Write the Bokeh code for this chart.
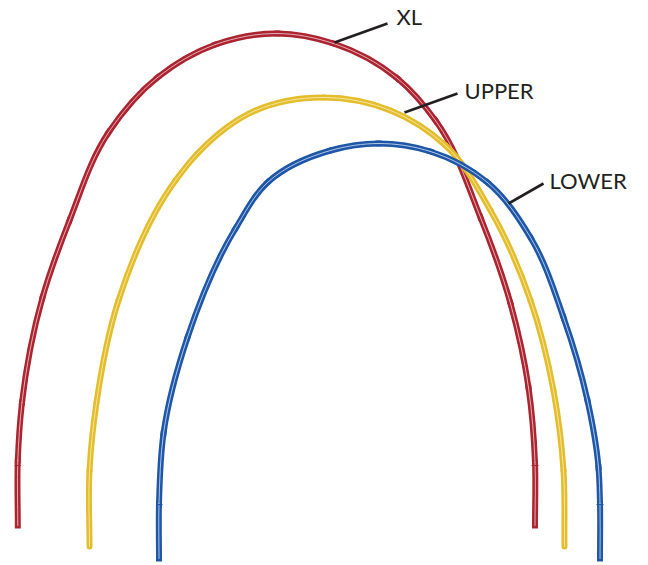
from math import hypot

from bokeh.plotting import figure
from bokeh.models import Range1d
from bokeh.core.properties import value
from bokeh.embed import file_html
from bokeh.resources import INLINE

red_x = [17.3,17.3,21.5,42,69,108,157,215,277,333,397,435,480,510,528,534.5,534.5]
red_y = [525,460,402,297,220,132,77,44,33,43,78,120,217,303,387,462,525]
yellow_x = [89,89,96,118,175,197,255,323,390,445,490,530,553,563,564]
yellow_y = [546,470,402,300,180,153,110,97,110,145,210,300,390,470,546]
blue_x = [158.5,158.5,163,187,235,267,330,378,430,487,530,563,587,598,599.5,599.5]
blue_y = [558,503,433,337,228,182,150,143,151,182,237,317,400,467,503,558]

labels = ["XL", "UPPER", "LOWER"]
label_x = [396, 464, 549]
label_y = [16, 90, 180]
lead_x0 = [334, 404, 508]
lead_y0 = [42, 112, 203]
lead_x1 = [387, 457, 543]
lead_y1 = [23, 93, 183]

red_joint_x0 = [14, 531]
red_joint_x1 = [20.5, 538]
red_joint_y = [465, 465]
blue_joint_x0 = [156, 596]
blue_joint_x1 = [162, 603]
blue_joint_y = [504, 504]

RED, YELLOW, BLUE = "#ab2430", "#e4bd2b", "#1f57a8"
RED_IN, YELLOW_IN, BLUE_IN = "#e6c0c4", "#f7e8b4", "#c2d3ea"


def controls(xs, ys):
    """Bezier handles: tangent of the circle through each three read points."""
    n = len(xs)
    tx, ty = [], []
    for i in range(n):
        if i == 0 or i == n - 1:
            j, k = (0, 1) if i == 0 else (n - 2, n - 1)
            dx, dy = xs[k] - xs[j], ys[k] - ys[j]
        else:
            ax, ay = xs[i] - xs[i - 1], ys[i] - ys[i - 1]
            bx, by = xs[i + 1] - xs[i], ys[i + 1] - ys[i]
            la, lb = hypot(ax, ay), hypot(bx, by)
            dx = ax / la * lb + bx / lb * la
            dy = ay / la * lb + by / lb * la
        m = hypot(dx, dy)
        tx.append(dx / m)
        ty.append(dy / m)
    c0x, c0y, c1x, c1y = [], [], [], []
    for i in range(n - 1):
        h = hypot(xs[i + 1] - xs[i], ys[i + 1] - ys[i]) / 3
        c0x.append(xs[i] + tx[i] * h)
        c0y.append(ys[i] + ty[i] * h)
        c1x.append(xs[i + 1] - tx[i + 1] * h)
        c1y.append(ys[i + 1] - ty[i + 1] * h)
    return c0x, c0y, c1x, c1y


p = figure(width=648, height=565, output_backend="svg", toolbar_location=None,
           x_range=Range1d(0, 648), y_range=Range1d(565, 0),
           min_border=0, outline_line_color=None)
p.xaxis.visible = False
p.yaxis.visible = False
p.grid.visible = False

for xs, ys, c, ci in [(red_x, red_y, RED, RED_IN), (yellow_x, yellow_y, YELLOW, YELLOW_IN), (blue_x, blue_y, BLUE, BLUE_IN)]:
    c0x, c0y, c1x, c1y = controls(xs, ys)
    args = dict(x0=xs[:-1], y0=ys[:-1], x1=xs[1:], y1=ys[1:], cx0=c0x, cy0=c0y, cx1=c1x, cy1=c1y)
    p.bezier(line_color=c, line_width=6, line_cap="round" if c == YELLOW else "square", **args)
    p.bezier(line_color=ci, line_width=0.9, line_cap="round", **args)

p.segment(red_joint_x0, red_joint_y, red_joint_x1, red_joint_y, line_color=RED, line_width=1)
p.segment(blue_joint_x0, blue_joint_y, blue_joint_x1, blue_joint_y, line_color=BLUE, line_width=1)

p.segment(lead_x0, lead_y0, lead_x1, lead_y1, line_color="#231f20", line_width=2.6)
p.text(label_x, label_y, text=labels, text_font=value("Lato"), text_font_size="22px",
       text_color="#231f20", text_baseline="middle", text_align="left")

open("out.html", "w").write(file_html(p, INLINE))
